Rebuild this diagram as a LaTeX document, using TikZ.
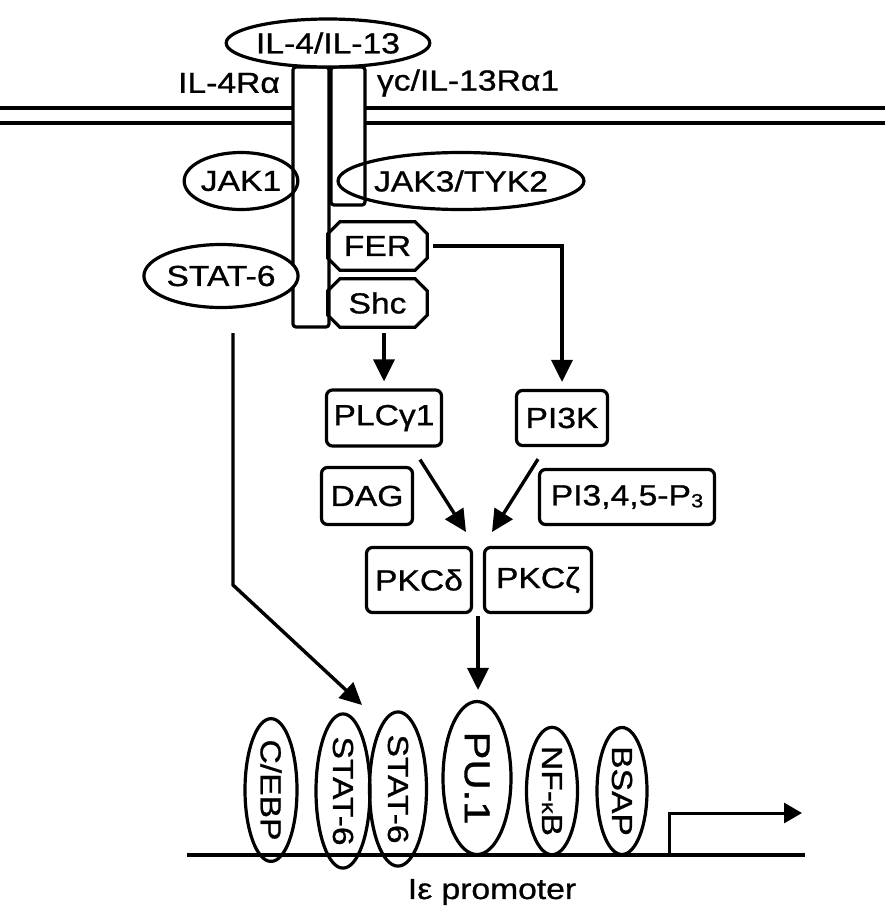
\documentclass[tikz,border=0pt]{standalone}
\usepackage{fontspec}
\setmainfont{Liberation Sans}[FakeStretch=1.16,FakeBold=0.9]
\usetikzlibrary{arrows.meta,shapes.geometric,calc}
\begin{document}
\begin{tikzpicture}[x=1pt,y=-1pt,
  every node/.style={font=\fontsize{29}{31}\selectfont, inner sep=0pt},
  lw/.style={line width=3.2pt},
  box/.style={draw, lw, rounded corners=6pt, fill=white},
  ell/.style={draw, lw, ellipse},
  tf/.style={draw, lw, ellipse, rotate=-90},
  chain/.style={draw, lw, rounded corners=3pt, fill=white},
  arr/.style={line width=3.4pt, -{Triangle[length=22pt,width=21pt]}},
  octo/.style={draw=none, minimum width=99, minimum height=48},
]
\useasboundingbox (0,0) rectangle (885,908);

% membrane
\coordinate (m1l) at (0,108); \coordinate (m1r) at (885,108);
\coordinate (m2l) at (0,123); \coordinate (m2r) at (885,123);
\draw[lw] (m1l) -- (m1r);
\draw[lw] (m2l) -- (m2r);

% receptor chains
\node[chain, minimum width=36, minimum height=260] (r4) at (311,197) {};
\node[chain, minimum width=34, minimum height=138] (rg) at (348,136) {};

% ligand
\node[ell, fill=white, minimum width=176, minimum height=48] (il) at (328,43) {IL-4/IL-13};

% labels
\node (l4r) at (229,83) {IL-4Rα};
\node (lgc) at (468,83) {γc/IL-13Rα1};

% kinases
\node[ell, minimum width=103, minimum height=57] (jak1) at (241,181) {JAK1};
\node[ell, minimum width=213, minimum height=57] (jak3) at (461,181) {JAK3/TYK2};
\node[ell, fill=white, minimum width=133, minimum height=63] (stat) at (221,276) {STAT-6};

% FER and Shc (chamfered)
\node[octo] (fer) at (377.5,246) {FER};
\node[octo] (shc) at (377.5,303) {Shc};
\foreach \n in {fer,shc}{
  \draw[lw] ([xshift=12pt]\n.north west) -- ([xshift=-12pt]\n.north east)
    -- ([yshift=-12pt]\n.north east) -- ([yshift=12pt]\n.south east)
    -- ([xshift=-12pt]\n.south east) -- ([xshift=12pt]\n.south west)
    -- ([yshift=12pt]\n.south west) -- ([yshift=-12pt]\n.north west) -- cycle;
}

% signalling boxes
\node[box, minimum width=115, minimum height=56] (plc) at (384,418) {PLCγ1};
\node[box, minimum width=91, minimum height=55] (pi3k) at (562,418) {PI3K};
\node[box, minimum width=91, minimum height=57] (dag) at (367,496) {DAG};
\node[box, minimum width=175, minimum height=55] (pip) at (627,497) {PI3,4,5-P\raisebox{-2pt}{\fontsize{19}{19}\selectfont 3}};
\node[box, minimum width=105, minimum height=65] (pkcd) at (419,580) {PKCδ};
\node[box, minimum width=107, minimum height=65] (pkcz) at (538,580) {PKCζ};

% promoter
\coordinate (pl) at (187,855); \coordinate (pr) at (805,855);
\draw[line width=3.4pt] (pl) -- (pr);
\node[tf, minimum width=130, minimum height=52] (cebp) at (271,790) {C/EBP};
\node[tf, minimum width=128, minimum height=54] (st1) at (343,791) {STAT-6};
\node[tf, minimum width=132, minimum height=57] (st2) at (398,789) {STAT-6};
\node[tf, minimum width=153, minimum height=68, font=\fontsize{36}{37}\selectfont] (pu1) at (477,778) {PU.1};
\node[tf, minimum width=127, minimum height=51] (nfkb) at (552,791) {NF-{\fontsize{20}{20}\selectfont κ}B};
\node[tf, minimum width=127, minimum height=50] (bsap) at (622,791) {BSAP};
\node (prom) at (492,892) {Iε promoter};

% transcription start
\coordinate (ts0) at (669,855); \coordinate (ts1) at (669,813); \coordinate (ts2) at (802,813);
\draw[line width=3pt, -{Triangle[length=18pt,width=20pt]}] (ts0) -- (ts1) -- (ts2);

% signalling arrows
\draw[arr, shorten <=6pt, shorten >=7pt] (shc.south -| plc.north) -- (plc.north);
\draw[arr, shorten <=6pt, shorten >=7pt] (fer.east) -| (pi3k.north);
\coordinate (jl) at (466,532);
\coordinate (jr) at (492,532);
\draw[arr] ([xshift=36pt,yshift=-12pt]plc.south) -- (jl);
\draw[arr] ([xshift=-24pt,yshift=-12pt]pi3k.south) -- (jr);
\coordinate (pkcb) at ($(pkcd.south east)!0.5!(pkcz.south west)$);
\draw[arr, shorten <=2pt, shorten >=10pt] (pkcb) -- (pkcb |- pu1.west);

% STAT-6 to nucleus
\coordinate (s0) at (233,333); \coordinate (s1) at (233,585); \coordinate (s2) at (362,705);
\draw[arr] (s0) -- (s1) -- (s2);
\end{tikzpicture}
\end{document}
